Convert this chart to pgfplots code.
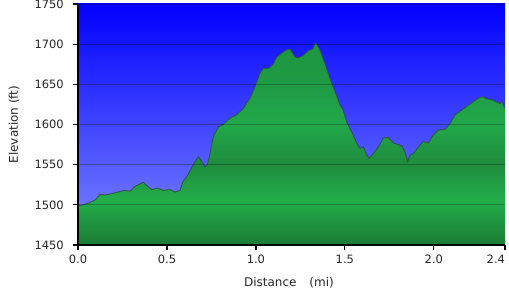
\documentclass[border=0pt]{standalone}
\usepackage{pgfplots}
\pgfplotsset{compat=1.18}
\usepackage{fontspec}
\setmainfont{DejaVu Sans}
\definecolor{gA}{RGB}{27,122,51}
\definecolor{gB}{RGB}{35,174,75}
\definecolor{gC}{RGB}{31,140,61}
\definecolor{gD}{RGB}{34,168,74}
\definecolor{gE}{RGB}{31,154,69}
\definecolor{gF}{RGB}{30,149,66}
\definecolor{bgTop}{RGB}{0,0,255}
\definecolor{bgBot}{RGB}{128,138,255}
\definecolor{edge}{RGB}{45,75,62}
\pgfdeclareverticalshading{greenfill}{100bp}{color(0bp)=(gA); color(25bp)=(gA); color(36bp)=(gB); color(45bp)=(gC); color(55bp)=(gD); color(65bp)=(gE); color(75bp)=(gF); color(100bp)=(gF)}
\pgfplotstableread{
x y
0.000 1499
0.011 1499
0.058 1502
0.096 1506
0.124 1513
0.152 1512
0.189 1514
0.225 1516
0.264 1518
0.292 1517
0.320 1523
0.367 1528
0.386 1524
0.414 1519
0.450 1521
0.478 1518
0.517 1519
0.545 1516
0.573 1518
0.590 1529
0.611 1535
0.648 1550
0.676 1560
0.695 1554
0.714 1547
0.727 1550
0.742 1564
0.761 1585
0.789 1597
0.817 1600
0.854 1608
0.892 1612
0.929 1620
0.967 1633
0.995 1647
1.023 1664
1.042 1670
1.070 1670
1.094 1674
1.117 1684
1.145 1689
1.173 1693
1.192 1694
1.220 1684
1.238 1683
1.266 1686
1.295 1692
1.319 1694
1.336 1702
1.360 1693
1.388 1676
1.417 1657
1.445 1641
1.473 1624
1.491 1618
1.510 1603
1.538 1591
1.566 1577
1.585 1570
1.604 1572
1.623 1562
1.636 1558
1.660 1564
1.688 1572
1.716 1583
1.744 1584
1.772 1577
1.800 1575
1.820 1573
1.838 1566
1.853 1554
1.866 1562
1.885 1564
1.913 1572
1.941 1579
1.969 1577
1.997 1587
2.025 1593
2.063 1594
2.091 1601
2.119 1612
2.157 1618
2.194 1624
2.232 1630
2.269 1635
2.297 1632
2.325 1631
2.353 1628
2.372 1626
2.382 1629
2.397 1621
2.400 1621
}\profile
\begin{document}
\begin{tikzpicture}
\useasboundingbox (-78pt,-52pt) rectangle (431pt,245pt);
\begin{axis}[
  at={(0pt,0pt)}, anchor=south west,
  scale only axis, width=427pt, height=241pt,
  xmin=0, xmax=2.4, ymin=1450, ymax=1750,
  xtick={0,0.5,1,1.5,2,2.4},
  xticklabels={0.0,0.5,1.0,1.5,2.0,\makebox[0pt][r]{2.4}},
  ytick={1450,1500,...,1750},
  /pgf/number format/assume math mode=true,
  /pgf/number format/1000 sep={},
  axis lines=left,
  axis line style={-, line width=1.5pt, black},
  tick align=outside,
  major tick length=5pt,
  tick style={black, line width=1.2pt},
  ymajorgrids,
  major grid style={black, opacity=0.25, line width=0.8pt},
  axis on top,
  axis background/.style={top color=bgTop, bottom color=bgBot},
  tick label style={font=\fontsize{11.5}{13}\selectfont, text=black!85},
  yticklabel style={anchor=east, inner sep=0pt, xshift=-9pt},
  xticklabel style={anchor=north, inner sep=0pt, yshift=-5pt},
  xlabel={Distance\hspace{13pt}(mi)},
  ylabel={Elevation (ft)},
  every axis x label/.style={at={(axis description cs:0.494,0)}, anchor=center, yshift=-38pt, font=\fontsize{12}{14}\selectfont, text=black!85},
  every axis y label/.style={at={(axis description cs:0,0.5)}, xshift=-64pt, rotate=90, anchor=center, font=\fontsize{12}{14}\selectfont, text=black!85},
]
\addplot[draw=none, shade, shading=greenfill] table[x=x,y=y] {\profile} -- (axis cs:2.4,1450) -- (axis cs:0,1450) -- cycle;
\addplot[draw=edge, line width=0.9pt, opacity=0.8] table[x=x,y=y] {\profile};
\end{axis}
\end{tikzpicture}
\end{document}
